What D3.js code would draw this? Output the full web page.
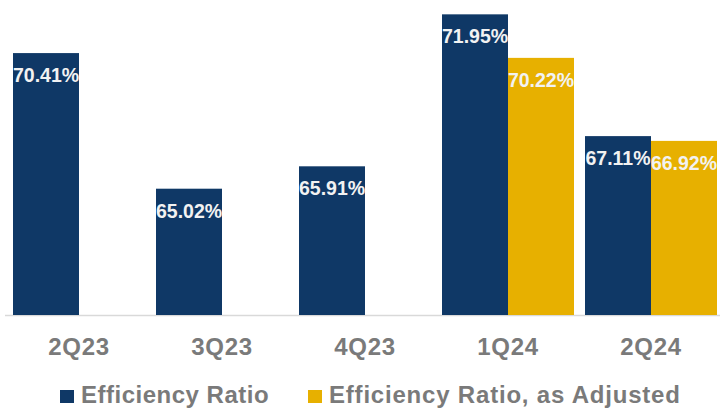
<!DOCTYPE html>
<html>
<head>
<meta charset="utf-8">
<script src="https://cdn.jsdelivr.net/npm/d3@7"></script>
<style>
  html, body { margin: 0; padding: 0; background: #ffffff; }
  svg { display: block; }
  text { font-family: "Liberation Sans", Arial, sans-serif; font-weight: bold; }
</style>
</head>
<body>
<svg id="chart" width="720" height="409"></svg>
<script>
const categories = ["2Q23", "3Q23", "4Q23", "1Q24", "2Q24"];
const seriesNames = ["Efficiency Ratio", "Efficiency Ratio, as Adjusted"];
const efficiencyRatio = [70.41, 65.02, 65.91, 71.95, 67.11];
const efficiencyAdjusted = [null, null, null, 70.22, 66.92];
const colors = ["#0f3866", "#e7b000"];

const svg = d3.select("#chart");
const W = 720, H = 409;
const baseY = 315;

const x = d3.scaleBand().domain(categories).range([13, 717]).paddingInner(11 / 143).paddingOuter(0);
const xs = d3.scaleBand().domain(seriesNames).range([0, x.bandwidth()]).padding(0);
const y = d3.scaleLinear().domain([60, 72.52]).range([baseY, 0]);

const rows = categories.map((c, i) => ({
  cat: c,
  vals: [
    { s: seriesNames[0], v: efficiencyRatio[i], c: colors[0] },
    { s: seriesNames[1], v: efficiencyAdjusted[i], c: colors[1] }
  ].filter(d => d.v != null)
}));

// axis baseline
svg.append("line")
  .attr("x1", 5).attr("x2", W)
  .attr("y1", baseY + 0.5).attr("y2", baseY + 0.5)
  .attr("stroke", "#d9d9d9").attr("stroke-width", 1.5);

const g = svg.selectAll("g.cat").data(rows).join("g")
  .attr("class", "cat")
  .attr("transform", d => `translate(${x(d.cat)},0)`);

g.selectAll("rect").data(d => d.vals).join("rect")
  .attr("x", d => xs(d.s))
  .attr("y", d => y(d.v))
  .attr("width", xs.bandwidth())
  .attr("height", d => baseY - y(d.v))
  .attr("fill", d => d.c);

g.selectAll("text.val").data(d => d.vals).join("text")
  .attr("class", "val")
  .attr("x", d => xs(d.s) + xs.bandwidth() / 2)
  .attr("y", d => y(d.v) + 29)
  .attr("text-anchor", "middle")
  .attr("fill", "#f2f2f2")
  .attr("font-size", "19.5px")
  .text(d => d.v.toFixed(2) + "%");

// x axis labels
const xAxis = d3.axisBottom(x).tickSize(0).tickPadding(0);
const ax = svg.append("g").attr("transform", `translate(0,${baseY})`).call(xAxis);
ax.select(".domain").remove();
ax.selectAll("text")
  .attr("dy", null)
  .attr("y", 40)
  .attr("fill", "#7a7a7a")
  .attr("font-size", "24px")
  .attr("letter-spacing", "0.7px")
  .style("font-family", "'Liberation Sans', Arial, sans-serif")
  .style("font-weight", "bold");

// legend
const legendX = [60, 308];
const legendSpacing = ["0.5px", "0.8px"];
const leg = svg.selectAll("g.leg").data(seriesNames).join("g")
  .attr("class", "leg")
  .attr("transform", (d, i) => `translate(${legendX[i]},0)`);
leg.append("rect").attr("x", 0).attr("y", 390).attr("width", 14).attr("height", 13)
  .attr("fill", (d, i) => colors[i]);
leg.append("text").attr("x", 21).attr("y", 403)
  .attr("fill", "#7a7a7a")
  .attr("font-size", "24px")
  .attr("letter-spacing", (d, i) => legendSpacing[i])
  .text(d => d);
</script>
</body>
</html>
